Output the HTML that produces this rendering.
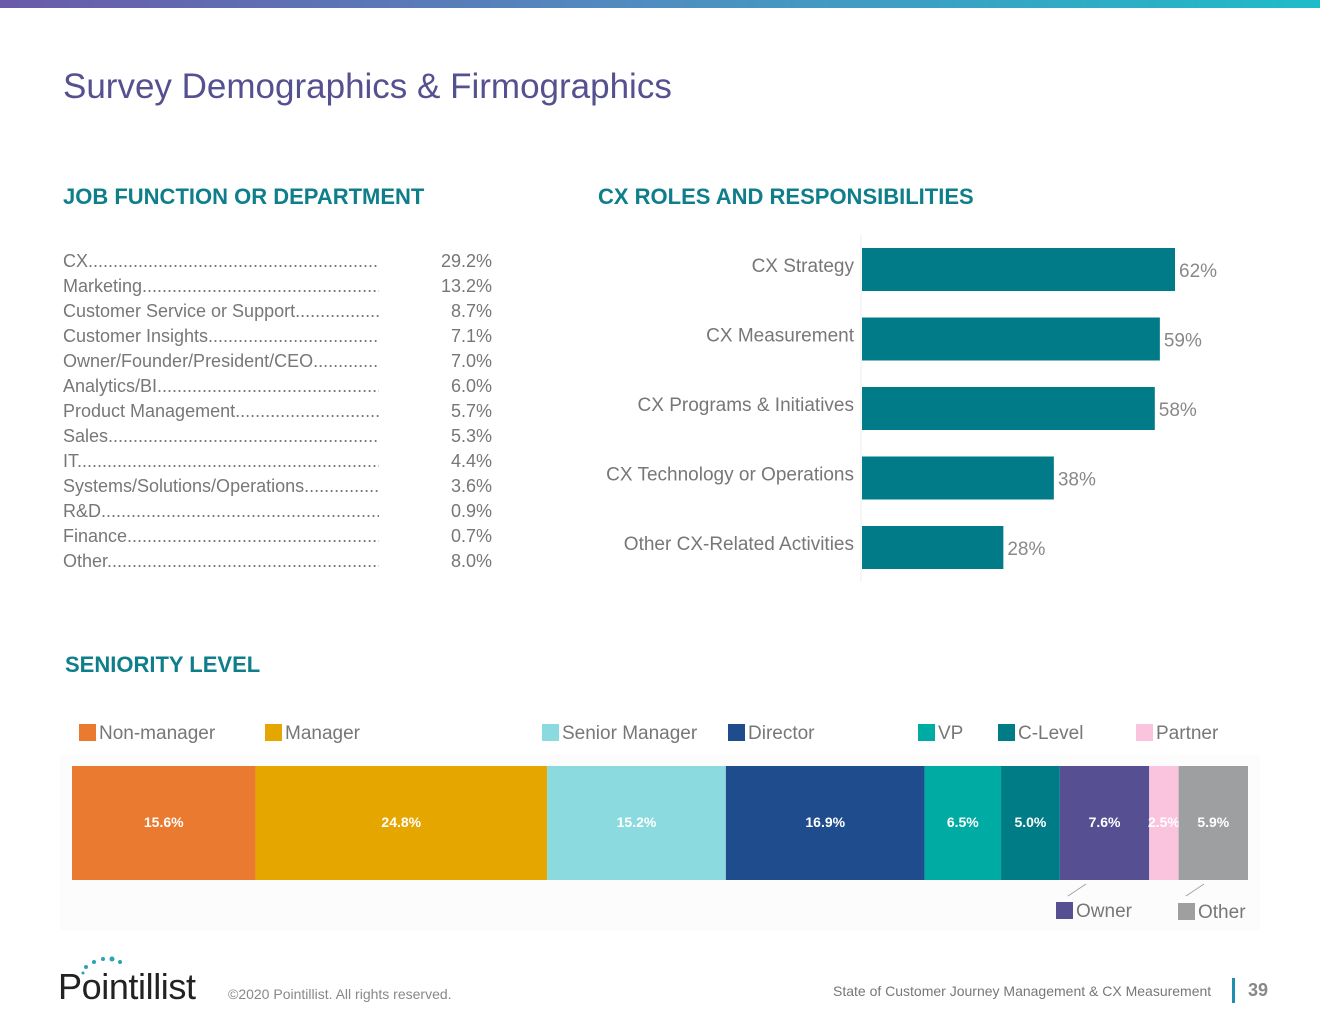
<!DOCTYPE html>
<html><head><meta charset="utf-8"><style>
body{margin:0;width:1320px;height:1020px;background:#fff;font-family:"Liberation Sans",sans-serif;position:relative;overflow:hidden}
.abs{position:absolute}
.topbar{left:0;top:0;width:1320px;height:8px;background:linear-gradient(90deg,#6a5aa8,#4f8ec0,#1ebcc8)}
h1{position:absolute;left:63px;top:67px;margin:0;font-weight:normal;font-size:35px;color:#55508f}
.sec{position:absolute;font-weight:bold;font-size:22px;color:#0e7f8a}
.jl{position:absolute;left:63px;font-size:18px;color:#777;width:316px;white-space:nowrap;overflow:hidden}
.jv{position:absolute;left:400px;width:92px;text-align:right;font-size:18px;color:#777}
.leg{position:absolute;font-size:19px;color:#777}
.leg span{display:inline-block;width:17px;height:17px;vertical-align:-2px;margin-right:3px}
</style></head><body>
<div class="abs topbar"></div>
<h1>Survey Demographics &amp; Firmographics</h1>
<div class="sec" style="left:63px;top:184px">JOB FUNCTION OR DEPARTMENT</div>
<div class="sec" style="left:598px;top:184px">CX ROLES AND RESPONSIBILITIES</div>
<div class="sec" style="left:65px;top:652px">SENIORITY LEVEL</div>
<div id="jobs"></div>
<svg class="abs" style="left:0;top:0" width="1320" height="1020" id="chart"></svg>
<div id="sen"></div>
<div class="abs" style="left:58px;top:955px">
<svg width="145" height="48"><g fill="#2aa5b0"><circle cx="28" cy="12" r="2"/><circle cx="36" cy="7" r="2"/><circle cx="45" cy="4" r="2"/><circle cx="54" cy="4" r="2.5"/><circle cx="62" cy="7" r="2"/><circle cx="25" cy="18" r="1.5"/></g>
<text x="0" y="44" font-family="Liberation Sans" font-size="36" fill="#222" textLength="138">Pointillist</text></svg></div>
<div class="abs" style="left:228px;top:986px;font-size:14px;color:#888">©2020 Pointillist. All rights reserved.</div>
<div class="abs" style="left:833px;top:983px;font-size:14px;color:#777">State of Customer Journey Management &amp; CX Measurement</div>
<div class="abs" style="left:1232px;top:978px;width:3px;height:25px;background:#1e8fb0"></div>
<div class="abs" style="left:1248px;top:980px;font-size:18px;font-weight:bold;color:#888">39</div>
<script>
const jobNames=["CX","Marketing","Customer Service or Support","Customer Insights","Owner/Founder/President/CEO","Analytics/BI","Product Management","Sales","IT","Systems/Solutions/Operations","R&D","Finance","Other"];
const jobValues=["29.2%","13.2%","8.7%","7.1%","7.0%","6.0%","5.7%","5.3%","4.4%","3.6%","0.9%","0.7%","8.0%"];
const roleNames=["CX Strategy","CX Measurement","CX Programs & Initiatives","CX Technology or Operations","Other CX-Related Activities"];
const roleValues=[62,59,58,38,28];
const senNames=["Non-manager","Manager","Senior Manager","Director","VP","C-Level","Owner","Partner","Other"];
const senValues=[15.6,24.8,15.2,16.9,6.5,5.0,7.6,2.5,5.9];
const senColors=["#ea7a30","#e6a600","#8adadf","#1f4c8c","#00aba3","#007c86","#565092","#fbc4de","#9d9fa0"];

const J=document.getElementById('jobs');
jobNames.forEach((n,i)=>{
 const y=251+i*25;
 const a=document.createElement('div');a.className='jl';a.style.top=y+'px';a.textContent=n+'.'.repeat(120);
 
 
 J.appendChild(a);
 const b=document.createElement('div');b.className='jv';b.style.top=y+'px';b.textContent=jobValues[i];
 
 
 J.appendChild(b);
});
const NS='http://www.w3.org/2000/svg';const S=document.getElementById('chart');
const x0=861,sc=313/62;
function el(t,o){const e=document.createElementNS(NS,t);for(const k in o)e.setAttribute(k,o[k]);S.appendChild(e);return e;}
const ax=el('line',{x1:x0,x2:x0,y1:235,y2:582,stroke:'#eee'});


roleNames.forEach((n,i)=>{
 const y=248+i*69.5;
 const r=el('rect',{x:x0+1,y:y,width:roleValues[i]*sc,height:43,fill:'#007b87'});
 
 
 const t=el('text',{x:854,y:y+24,'text-anchor':'end','font-size':19,fill:'#777','font-family':'Liberation Sans'});t.textContent=n;
 
 
 const v=el('text',{x:x0+roleValues[i]*sc+5,y:y+29,'font-size':19,fill:'#888','font-family':'Liberation Sans'});v.textContent=roleValues[i]+'%';
 
 
});
const bx=72,bw=1176,tot=senValues.reduce((a,b)=>a+b,0);
const bg=el('rect',{x:60,y:755,width:1200,height:175,fill:'#fcfcfc'});


let cx=bx;
senValues.forEach((v,i)=>{
 const w=v/tot*bw;
 const r=el('rect',{x:cx,y:766,width:w,height:114,fill:senColors[i]});
 
 
 const t=el('text',{x:cx+w/2,y:827,'text-anchor':'middle','font-size':14,'font-weight':'bold',fill:'#fff','font-family':'Liberation Sans'});t.textContent=v.toFixed(1)+'%';
 
 
 cx+=w;
});
const legPos=[[79,723],[265,723],[542,723],[728,723],[918,723],[998,723],[1056,901],[1136,723],[1178,902]];
const L=document.getElementById('sen');
senNames.forEach((n,i)=>{
 const d=document.createElement('div');d.className='leg';d.style.left=legPos[i][0]+'px';d.style.top=legPos[i][1]+'px';
 d.innerHTML='<span style="background:'+senColors[i]+'"></span>'+n;
 
 
 L.appendChild(d);
});
[[1068,896,1086,884],[1186,896,1204,884]].forEach(p=>{const l=el('line',{x1:p[0],y1:p[1],x2:p[2],y2:p[3],stroke:'#999','stroke-width':0.8});
 
 });
</script>
</body></html>
